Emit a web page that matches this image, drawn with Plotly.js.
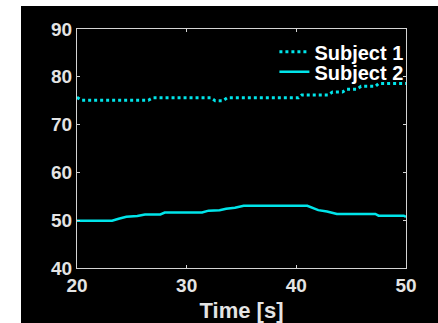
<!DOCTYPE html>
<html>
<head>
<meta charset="utf-8">
<script src="https://cdn.plot.ly/plotly-3.0.1.min.js"></script>
<style>
html,body{margin:0;padding:0;background:#ffffff;width:438px;height:323px;overflow:hidden;}
#chart{position:absolute;left:21px;top:6px;width:417px;height:317px;}
</style>
</head>
<body>
<div id="chart"></div>
<script>
// Subject 1 (dotted)
const s1Time = [20, 20.4, 26.5, 26.9, 32.2, 32.6, 33.3, 33.7, 40.2, 40.5, 42.9, 43.3, 44.2, 44.6, 45.5, 45.9, 47.2, 47.5, 50];
const s1Value = [75.7, 75.1, 75.1, 75.6, 75.6, 75.0, 75.0, 75.6, 75.6, 76.2, 76.2, 76.8, 76.8, 77.4, 77.4, 78.0, 78.0, 78.6, 78.6];
// Subject 2 (solid)
const s2Time = [20, 23.2, 23.8, 24.5, 25.5, 26.2, 27.6, 28.0, 31.4, 32.0, 33.0, 33.6, 34.4, 35.2, 41.0, 41.5, 42.0, 42.8, 43.7, 47.2, 47.5, 49.8, 50];
const s2Value = [49.9, 49.9, 50.3, 50.7, 50.9, 51.2, 51.2, 51.6, 51.6, 52.0, 52.1, 52.4, 52.6, 53.0, 53.0, 52.5, 52.1, 51.8, 51.3, 51.3, 50.95, 50.95, 50.7];
const seriesNames = ["Subject 1", "Subject 2"];
const xTicks = [20, 30, 40, 50];
const yTicks = [40, 50, 60, 70, 80, 90];
const xLabel = "Time [s]";

const cyan = "#00e5ea";
const axisCol = "#d4d4d4";
const textCol = "#e4e4e4";
const fam = "'Liberation Sans', Arial, Helvetica, sans-serif";

const traces = [
  {x: s1Time, y: s1Value, name: seriesNames[0], mode: "lines", legend: "legend",
   line: {color: cyan, width: 3, dash: "dot"}},
  {x: s2Time, y: s2Value, name: seriesNames[1], mode: "lines", legend: "legend2",
   line: {color: cyan, width: 2.5}}
];

const axisCommon = {
  showline: true, mirror: "ticks", linecolor: axisCol, linewidth: 1,
  ticks: "inside", ticklen: 3, tickwidth: 1, tickcolor: axisCol,
  showgrid: false, zeroline: false,
  tickfont: {family: fam, size: 19, color: textCol, weight: "bold"}
};

const legendFont = {family: fam, size: 20, color: "#ffffff", weight: "bold"};
const layout = {
  width: 417, height: 317,
  paper_bgcolor: "#000000", plot_bgcolor: "#000000",
  margin: {l: 55.5, r: 32, t: 23, b: 55},
  showlegend: true,
  legend: {x: 0.6, y: 0.905, xanchor: "left", yanchor: "middle",
           bgcolor: "rgba(0,0,0,0)", borderwidth: 0, font: legendFont},
  legend2: {x: 0.6, y: 0.821, xanchor: "left", yanchor: "middle",
           bgcolor: "rgba(0,0,0,0)", borderwidth: 0, font: legendFont},
  xaxis: Object.assign({}, axisCommon, {
    range: [20, 50], tickvals: xTicks, ticktext: xTicks.map(String),
    title: {text: xLabel, standoff: 9, font: {family: fam, size: 22, color: textCol, weight: "bold"}}
  }),
  yaxis: Object.assign({}, axisCommon, {
    range: [40, 90], tickvals: yTicks, ticktext: yTicks.map(String)
  })
};

Plotly.newPlot("chart", traces, layout, {displayModeBar: false, staticPlot: true});
</script>
</body>
</html>
